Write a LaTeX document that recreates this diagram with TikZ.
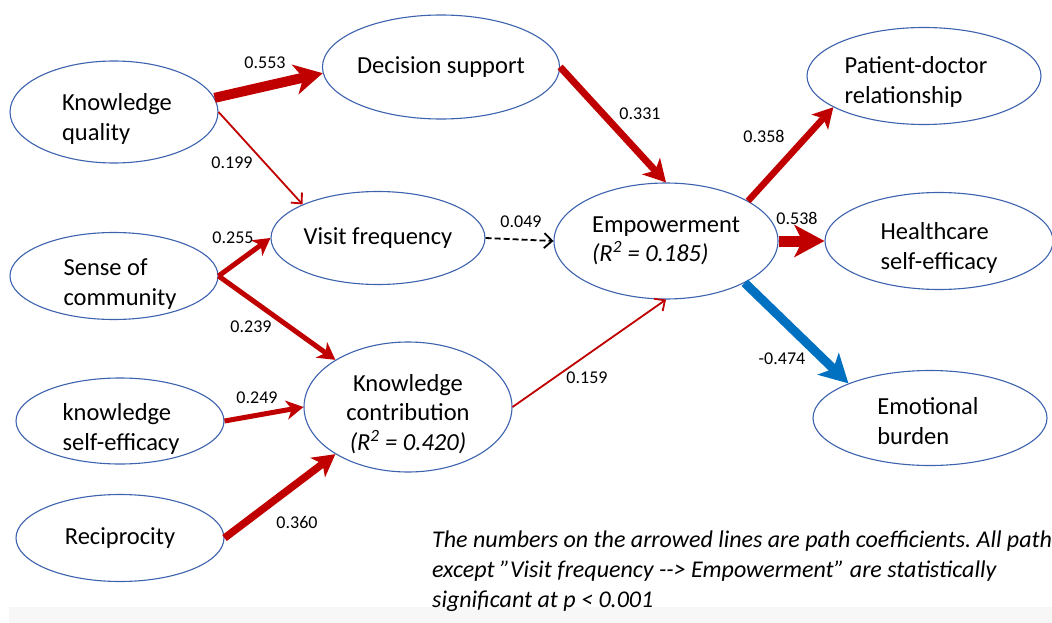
\documentclass[tikz,border=0pt]{standalone}
\usepackage{fontspec}
\setmainfont{Carlito}
\usetikzlibrary{arrows.meta,shapes.geometric}
\definecolor{pathred}{HTML}{C00000}
\definecolor{pathblue}{HTML}{0070C0}
\definecolor{ellblue}{HTML}{3D62AE}
\definecolor{bandgray}{HTML}{F7F7F7}
\frenchspacing
\begin{document}
\begin{tikzpicture}[x=1pt,y=-1pt,
  var/.style={ellipse, draw=ellblue, line width=1.1pt, inner sep=0pt, align=left,
    font=\fontsize{24.5}{29.5}\selectfont},
  vtext/.style={inner sep=0pt, align=left, font=\fontsize{24.5}{29.5}\selectfont},
  coef/.style={font=\fontsize{18}{21}\selectfont, inner sep=0pt},
  captext/.style={font=\fontsize{24}{30}\selectfont\itshape, inner sep=0pt, anchor=base west},
  thinpath/.style={draw=#1, line width=1.8pt, -{Straight Barb[length=8pt,width=15pt]}},
  boldpath/.style n args={5}{draw=#1, line width=#2, -{Stealth[length=#3,width=#4,inset=#5]}}
]
\clip (0,0) rectangle (1052,623);
\fill[white] (0,0) rectangle (1052,623);
\fill[bandgray] (9,607) rectangle (1052,623);

% variables
\node[var, minimum width=208pt, minimum height=102pt] (kq) at (114,112) {};
\node[vtext, xshift=3pt, yshift=-7pt] (kqt) at (kq) {Knowledge\\quality};
\node[var, minimum width=208pt, minimum height=87pt] (sc) at (114,276) {};
\node[vtext, xshift=6pt, yshift=-8pt] (sct) at (sc) {Sense of\\community};
\node[var, minimum width=208pt, minimum height=86pt] (kse) at (120,421) {};
\node[vtext, xshift=1pt, yshift=-8pt] (kset) at (kse) {knowledge\\self-efficacy};
\node[var, minimum width=208pt, minimum height=87pt] (rec) at (120,538) {Reciprocity};
\node[var, minimum width=210pt, minimum height=104pt] (ds) at (441,67) {Decision support};
\node[var, minimum width=214pt, minimum height=93pt] (vf) at (378,238) {Visit frequency};
\node[var, minimum width=208pt, minimum height=130pt] (kc) at (408,407) {};
\node[vtext, align=center, yshift=-7pt] (kct) at (kc)
  {Knowledge\\contribution\\\textit{(R\textsuperscript{2} = 0.420)}};
\node[var, minimum width=224pt, minimum height=116pt] (emp) at (666,241)
  {Empowerment\\\textit{(R\textsuperscript{2} = 0.185)}};
\node[var, minimum width=234pt, minimum height=97pt] (pd) at (924,76) {};
\node[vtext, xshift=-8pt, yshift=-6pt] (pdt) at (pd) {Patient-doctor\\relationship};
\node[var, minimum width=228pt, minimum height=97pt] (hse) at (939,241) {};
\node[vtext, yshift=-7pt] (hset) at (hse) {Healthcare\\self-efficacy};
\node[var, minimum width=234pt, minimum height=95pt] (eb) at (930,418) {};
\node[vtext, xshift=-2pt, yshift=-3pt] (ebt) at (eb) {Emotional\\burden};

% paths
\draw[boldpath={pathred}{10pt}{28pt}{30pt}{8pt}] (kq.8) -- (ds.183);
\draw[thinpath=pathred] (kq.east) -- (vf.156);
\draw[boldpath={pathred}{5pt}{17pt}{19pt}{5pt}] (sc.east) -- (vf.west);
\draw[boldpath={pathred}{5pt}{17pt}{19pt}{5pt}] (sc.east) -- (kc.147);
\draw[boldpath={pathred}{5pt}{17pt}{19pt}{5pt}] (kse.east) -- (kc.west);
\draw[boldpath={pathred}{7.5pt}{22pt}{24pt}{6pt}] (rec.east) -- (kc.213);
\draw[boldpath={pathred}{7pt}{22pt}{24pt}{6pt}] (ds.east) -- (emp.north);
\draw[thinpath=black, dashed, dash pattern=on 6pt off 3pt] (vf.east) -- (emp.west);
\draw[thinpath=pathred] (kc.east) -- (emp.south);
\draw[boldpath={pathred}{6.5pt}{20pt}{22pt}{5pt}] (emp.26) -- (pd.199);
\draw[boldpath={pathred}{11pt}{30pt}{32pt}{8pt}] (emp.east) -- (hse.west);
\draw[boldpath={pathblue}{9pt}{28pt}{30pt}{7pt}] (emp.-28) -- (eb.157);

% coefficients
\node[coef] (c1) at (265,63) {0.553};
\node[coef] (c2) at (232,163) {0.199};
\node[coef] (c3) at (233,238) {0.255};
\node[coef] (c4) at (251,327) {0.239};
\node[coef] (c5) at (257,398) {0.249};
\node[coef] (c6) at (297,522) {0.360};
\node[coef] (c7) at (640,114) {0.331};
\node[coef] (c8) at (521,222) {0.049};
\node[coef] (c9) at (587,378) {0.159};
\node[coef] (c10) at (764,136) {0.358};
\node[coef] (c11) at (797,218) {0.538};
\node[coef] (c12) at (782,359) {-0.474};

% caption
\node[captext] (cap1) at (432,547) {The numbers on the arrowed lines are path coefficients. All path};
\node[captext] (cap2) at (432,577) {except ”Visit frequency -{}-> Empowerment” are statistically};
\node[captext] (cap3) at (432,607) {significant at p < 0.001};
\end{tikzpicture}
\end{document}
